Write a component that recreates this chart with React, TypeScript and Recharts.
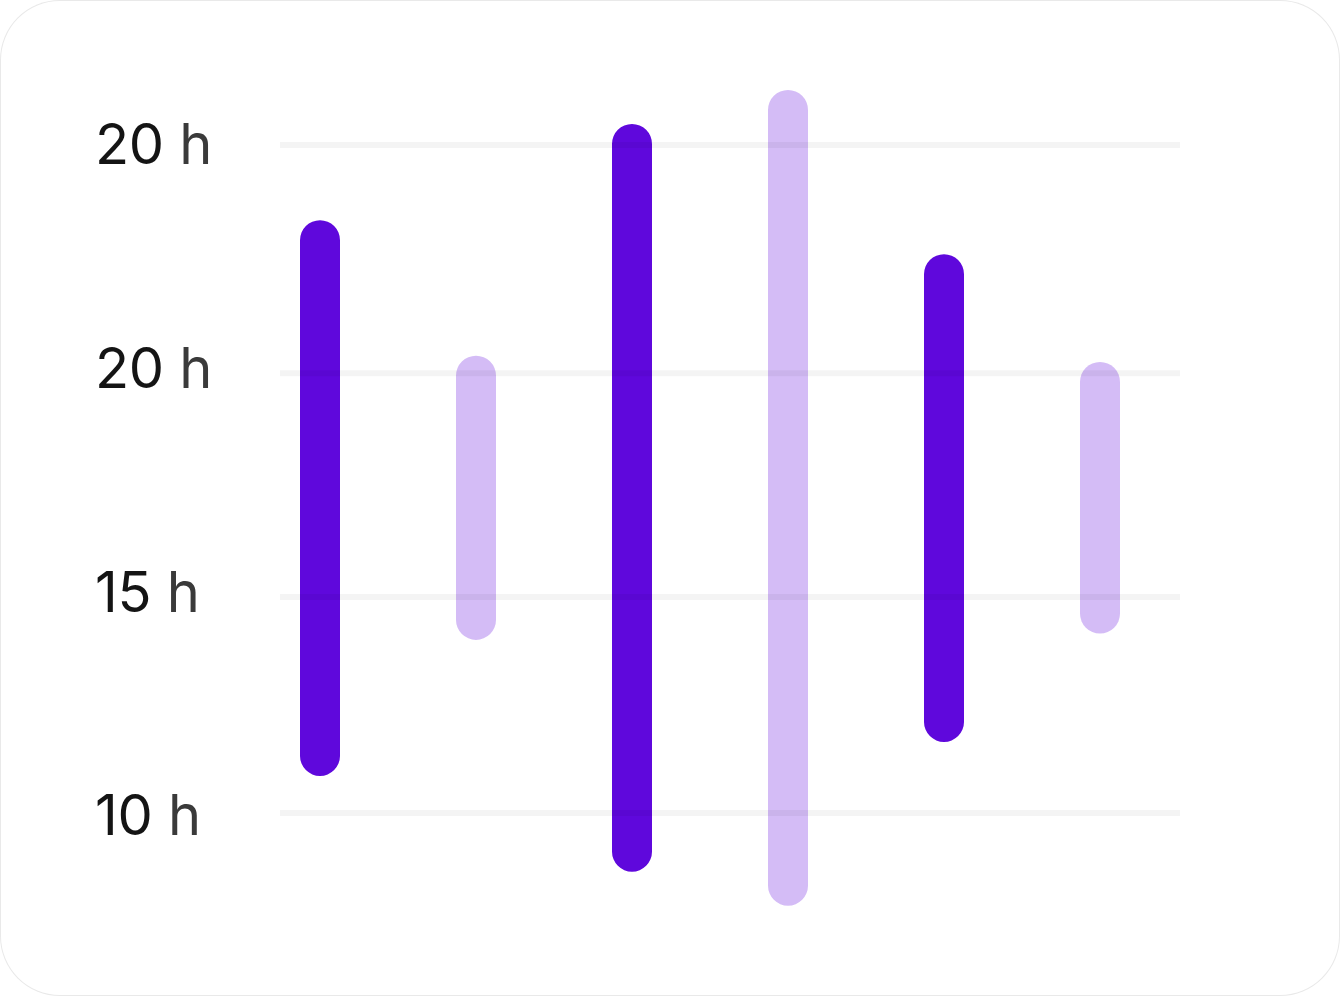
import React from "react";
import { BarChart, Bar, XAxis, YAxis, Cell, ReferenceLine } from "recharts";

// ---- data ----
const categories = ["A", "B", "C", "D", "E", "F"];
const positions = [0, 1, 2, 3, 4, 5];
const lowValues = [10.88, 13.92, 8.74, 7.98, 11.64, 14.06];
const highValues = [23.3, 20.27, 25.45, 26.21, 22.54, 20.13];
const variants = ["strong", "soft", "strong", "soft", "strong", "soft"];
const tickValues = [10, 15, 20, 25];
const tickLabels = ["10 h", "15 h", "20 h", "20 h"];
const gridValues = [10.05, 14.88, 19.88, 24.98];

const BAR_COLOR = "#5f08dc";

const data = categories.map((c, i) => ({
  name: c,
  pos: positions[i],
  range: [lowValues[i], highValues[i]],
  variant: variants[i],
}));

const YTick = (props: any) => {
  const { y, payload, index } = props;
  const label: string = tickLabels[index] ?? String(payload.value);
  const parts = label.split(" ");
  return (
    <text
      x={95}
      y={y}
      dy="0.36em"
      textAnchor="start"
      fontFamily="Inter, 'Noto Sans', sans-serif"
      fontSize={56}
      letterSpacing={-0.3}
    >
      <tspan fill="#141414">{parts[0]}</tspan>
      <tspan fill="#3a3a3a">{" " + (parts[1] ?? "")}</tspan>
    </text>
  );
};

export default function App() {
  return (
    <div
      style={{
        width: 1340,
        height: 996,
        position: "relative",
        background: "#ffffff",
        borderRadius: 60,
        boxShadow: "inset 0 0 0 1px #e9e9e9",
        overflow: "hidden",
      }}
    >
      <style>{`body{margin:0;background:#ffffff;}`}</style>
      <BarChart
        width={1340}
        height={996}
        data={data}
        margin={{ top: 54.55, right: 160, bottom: 46.45, left: 0 }}
      >
        <XAxis
          type="number"
          dataKey="pos"
          domain={[-40 / 156, 860 / 156]}
          allowDataOverflow
          hide
        />
        <YAxis
          type="number"
          domain={[7, 27]}
          allowDataOverflow
          ticks={tickValues}
          width={280}
          axisLine={false}
          tickLine={false}
          tick={<YTick />}
          interval={0}
        />
        <Bar
          dataKey="range"
          barSize={40}
          radius={20}
          isAnimationActive={false}
        >
          {data.map((d, i) => (
            <Cell
              key={i}
              fill={BAR_COLOR}
              fillOpacity={d.variant === "strong" ? 1 : 0.27}
            />
          ))}
        </Bar>
        {gridValues.map((v, i) => (
          <ReferenceLine
            key={i}
            y={v}
            stroke="#000000"
            strokeOpacity={0.045}
            strokeWidth={6}
          />
        ))}
      </BarChart>
    </div>
  );
}
